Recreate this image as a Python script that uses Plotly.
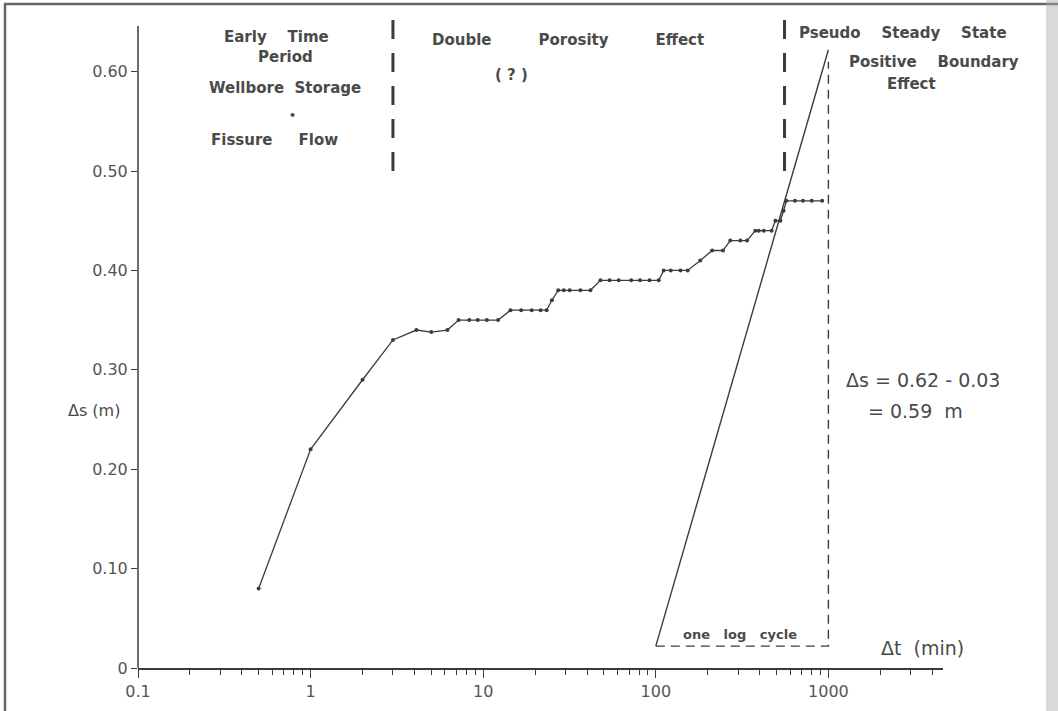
import math
import plotly.graph_objects as go

# ---- data ----
t_min = [0.5, 1, 2, 3, 4.1, 5, 6.2, 7.2, 8.3, 9.3, 10.5, 12.2, 14.4, 16.6, 19.1, 21.5, 23.3,
         25, 27.2, 29.3, 31.7, 36.6, 41.8, 47.8, 54, 61, 72, 81, 92, 104, 111, 122, 139, 153,
         181, 212, 245, 270, 309, 338, 377, 395, 422, 469, 493, 527, 550, 571, 640, 712, 800, 920]
ds_m = [0.08, 0.22, 0.29, 0.33, 0.34, 0.338, 0.34, 0.35, 0.35, 0.35, 0.35, 0.35, 0.36, 0.36, 0.36, 0.36, 0.36,
        0.37, 0.38, 0.38, 0.38, 0.38, 0.38, 0.39, 0.39, 0.39, 0.39, 0.39, 0.39, 0.39, 0.40, 0.40, 0.40, 0.40,
        0.41, 0.42, 0.42, 0.43, 0.43, 0.43, 0.44, 0.44, 0.44, 0.44, 0.45, 0.45, 0.46, 0.47, 0.47, 0.47, 0.47, 0.47]

slope_t = [100, 1000]
slope_s = [0.022, 0.622]
bracket_t = [100, 1000, 1000]
bracket_s = [0.022, 0.022, 0.61]

sep1_t = [3, 3]
sep2_t = [557, 557]
sep_s = [0.652, 0.50]

y_ticks = [0, 0.1, 0.2, 0.3, 0.4, 0.5, 0.6]
y_labels = ["0", "0.10", "0.20", "0.30", "0.40", "0.50", "0.60"]
x_ticks = [0.1, 1, 10, 100, 1000]
x_labels = ["0.1", "1", "10", "100", "1000"]
x_minor = [k * 10 ** d for d in range(-1, 4) for k in range(2, 10) if k * 10 ** d <= 4500]

y_axis_top = 0.646

# ---- layout geometry ----
W, H = 1058, 711
ML, MR, MT, MB = 138, 115, 7, 43
PW, PH = W - ML - MR, H - MT - MB


def px(x):
    return (x - ML) / PW


def py(y):
    return (H - MB - y) / PH


INK = "#3c3c3c"
TXT = "#4a4a4a"
FONT = "DejaVu Sans"

fig = go.Figure()

fig.add_trace(go.Scatter(x=t_min, y=ds_m, mode="lines+markers",
                         line=dict(color=INK, width=1.3),
                         marker=dict(color=INK, size=4), showlegend=False, hoverinfo="x+y"))
fig.add_trace(go.Scatter(x=slope_t, y=slope_s, mode="lines",
                         line=dict(color=INK, width=1.4), showlegend=False))
fig.add_trace(go.Scatter(x=bracket_t, y=bracket_s, mode="lines",
                         line=dict(color=INK, width=1.4, dash="9px,6px"), showlegend=False))
for st in (sep1_t, sep2_t):
    fig.add_trace(go.Scatter(x=st, y=sep_s, mode="lines",
                             line=dict(color=INK, width=3, dash="19px,14px"), showlegend=False))

# y axis line (stops below the top of the plot)
fig.add_shape(type="line", xref="paper", yref="y", x0=0, x1=0, y0=0, y1=y_axis_top,
              line=dict(color=INK, width=1.5))

# scanned page frame
fig.add_shape(type="line", xref="paper", yref="paper", x0=px(5), x1=px(5), y0=py(4), y1=py(711),
              line=dict(color="#666", width=2.5))
fig.add_shape(type="line", xref="paper", yref="paper", x0=px(4), x1=px(1058), y0=py(4), y1=py(4),
              line=dict(color="#666", width=2.5))
fig.add_shape(type="rect", xref="paper", yref="paper", x0=px(1046), x1=px(1058), y0=py(0), y1=py(711),
              line=dict(width=0), fillcolor="rgba(170,170,170,0.45)")

nb = "\u00a0"


def ann(text, x, y, size=15, bold=True, anchor="center"):
    fig.add_annotation(text=(f"<b>{text}</b>" if bold else text), x=px(x), y=py(y),
                       xref="paper", yref="paper", showarrow=False, xanchor=anchor, yanchor="middle",
                       font=dict(family=FONT, size=size, color=TXT))


ann(f"Early{nb*4}Time", 276, 37)
ann("Period", 285, 57)
ann(f"Wellbore{nb*2}Storage", 285, 88)
ann("•", 292, 115, size=11)
ann(f"Fissure{nb*5}Flow", 274, 140)
ann(f"Double{nb*9}Porosity{nb*9}Effect", 568, 40)
ann("( ? )", 511, 75)
ann(f"Pseudo{nb*4}Steady{nb*4}State", 903, 33)
ann(f"Positive{nb*4}Boundary", 934, 62)
ann("Effect", 911, 84)
ann("Δs = 0.62 - 0.03", 923, 380, size=19, bold=False)
ann(f"= 0.59{nb*2}m", 915, 411, size=19, bold=False)
ann(f"Δs{nb}(m)", 94, 410, size=16, bold=False)
ann(f"Δt{nb*2}(min)", 922, 648, size=19, bold=False)
ann(f"one{nb*3}log{nb*3}cycle", 740, 634, size=13)

fig.update_layout(
    width=W, height=H,
    margin=dict(l=ML, r=MR, t=MT, b=MB),
    paper_bgcolor="white", plot_bgcolor="white",
    font=dict(family=FONT, color=TXT),
    showlegend=False,
    xaxis=dict(type="log", range=[-1, -1 + PW / 172.6], showgrid=False, zeroline=False,
               showline=True, linecolor=INK, linewidth=1.5,
               tickmode="array", tickvals=x_ticks, ticktext=x_labels,
               ticks="outside", ticklen=8, tickwidth=1.3, tickcolor=INK,
               tickfont=dict(family=FONT, size=16, color="#555"),
               minor=dict(tickmode="array", tickvals=x_minor, ticks="outside", ticklen=5,
                          tickwidth=1.2, tickcolor=INK, showgrid=False)),
    yaxis=dict(range=[0, PH / 994], showgrid=False, zeroline=False, showline=False,
               tickmode="array", tickvals=y_ticks, ticktext=y_labels,
               ticks="outside", ticklen=6, tickwidth=1.3, tickcolor=INK,
               tickfont=dict(family=FONT, size=16, color="#555")),
)

fig.write_html("out.html")
